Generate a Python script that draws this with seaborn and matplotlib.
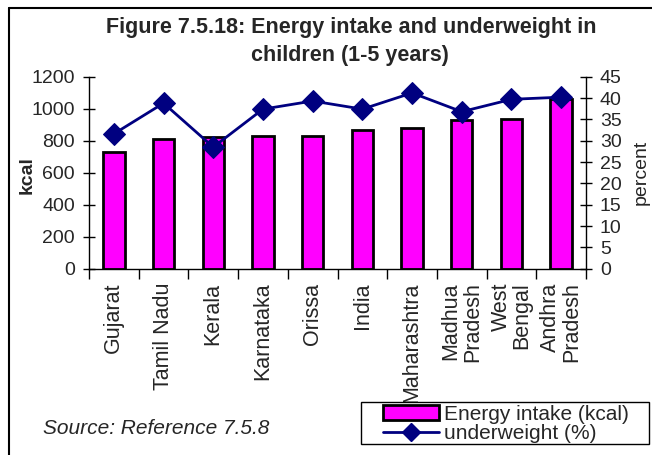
import numpy as np
import matplotlib
matplotlib.use("Agg")
import matplotlib.pyplot as plt
import seaborn as sns
from matplotlib.patches import Patch, Rectangle
from matplotlib.lines import Line2D

states = ["Gujarat", "Tamil Nadu", "Kerala", "Karnataka", "Orissa", "India",
          "Maharashtra", "Madhua\nPradesh", "West\nBengal", "Andhra\nPradesh"]
energy_kcal = [731, 810, 821, 827, 829, 869, 882, 932, 934, 1062]
underweight_pct = [31.6, 38.8, 28.5, 37.4, 39.3, 37.4, 41.2, 36.8, 39.7, 40.2]
left_ticks = [0, 200, 400, 600, 800, 1000, 1200]
right_ticks = [0, 5, 10, 15, 20, 25, 30, 35, 40, 45]

sns.set_theme(style="white")
plt.rcParams['font.family'] = ['Liberation Sans', 'DejaVu Sans']

W, H = 652, 455
fig = plt.figure(figsize=(W / 100, H / 100), dpi=100)
ax = fig.add_axes([89 / W, 1 - 268.7 / H, (586 - 89) / W, (268.7 - 76.7) / H])

sns.barplot(x=list(range(len(states))), y=energy_kcal, color="#FF00FF", saturation=1,
            edgecolor="black", linewidth=2, width=0.43, ax=ax, native_scale=True)
ax.set_xlim(-0.5, len(states) - 0.5)
ax.set_ylim(0, 1200)
ax.set_yticks(left_ticks)
ax.set_yticklabels([str(t) for t in left_ticks], fontsize=14)

ax2 = ax.twinx()
sns.lineplot(x=np.arange(len(states)), y=underweight_pct, ax=ax2, color="#000080",
             marker="D", markersize=11, linewidth=2, markeredgecolor="#000080")
ax2.set_ylim(0, 45)
ax2.set_yticks(right_ticks)
ax2.set_yticklabels([str(t) for t in right_ticks], fontsize=14)
ax2.set_ylabel("")
ax.set_ylabel("")
ax.set_xlabel("")

ax.set_xticks(range(len(states)))
ax.set_xticklabels(states, rotation=90, ha="center", va="top", fontsize=15.5,
                   multialignment="right", linespacing=1.0)
ax.set_xticks(np.arange(-0.5, len(states), 1), minor=True)
ax.tick_params(axis="x", which="major", length=0, pad=10)
ax.tick_params(axis="x", which="minor", length=7, width=1, direction="out", color="black", bottom=True)
ax.tick_params(axis="y", length=8, width=1, direction="inout", color="black", left=True, pad=6)
ax2.tick_params(axis="y", length=8, width=1, direction="inout", color="black", right=True, pad=6)

for a in (ax, ax2):
    a.spines["top"].set_visible(False)
    for s in ("left", "right", "bottom"):
        a.spines[s].set_color("black")
        a.spines[s].set_linewidth(1)
    a.grid(False)
ax.spines["right"].set_visible(False)
ax2.spines["left"].set_visible(False)
ax2.spines["bottom"].set_visible(False)

fig.text(351 / W, 1 - 28 / H, "Figure 7.5.18: Energy intake and underweight in",
         ha="center", va="center", fontsize=15.5, fontweight="bold")
fig.text(350 / W, 1 - 55 / H, "children (1-5 years)",
         ha="center", va="center", fontsize=15.5, fontweight="bold")
fig.text(27 / W, 1 - 175 / H, "kcal", rotation=90, ha="center", va="center",
         fontsize=14, fontweight="bold")
fig.text(641 / W, 1 - 172 / H, "percent", rotation=90, ha="center", va="center", fontsize=14)
fig.text(43 / W, 1 - 428 / H, "Source: Reference 7.5.8", ha="left", va="center",
         fontsize=15, style="italic")

# legend frame and entries
fig.add_artist(Rectangle((361 / W, 1 - 444 / H), (649 - 361) / W, (444 - 402) / H,
                         transform=fig.transFigure, facecolor="white", edgecolor="black",
                         linewidth=1, zorder=5))
handles = [Patch(facecolor="#FF00FF", edgecolor="black", linewidth=2),
           Line2D([], [], color="#000080", marker="D", markersize=9, linewidth=2)]
leg = fig.legend(handles, ["Energy intake (kcal)", "underweight (%)"],
                 loc="lower left", bbox_to_anchor=(382 / W, 1 - 444 / H),
                 fontsize=15, frameon=False, borderpad=0.05, labelspacing=0.0,
                 handlelength=2.7, handletextpad=0.25, borderaxespad=0)
leg.set_zorder(6)

fig.add_artist(Line2D([9 / W, 1], [1 - 8 / H, 1 - 8 / H], color="black", linewidth=1.5,
                      transform=fig.transFigure))
fig.add_artist(Line2D([9 / W, 9 / W], [0, 1 - 8 / H], color="black", linewidth=1.5,
                      transform=fig.transFigure))

fig.savefig("out.png", dpi=100)
